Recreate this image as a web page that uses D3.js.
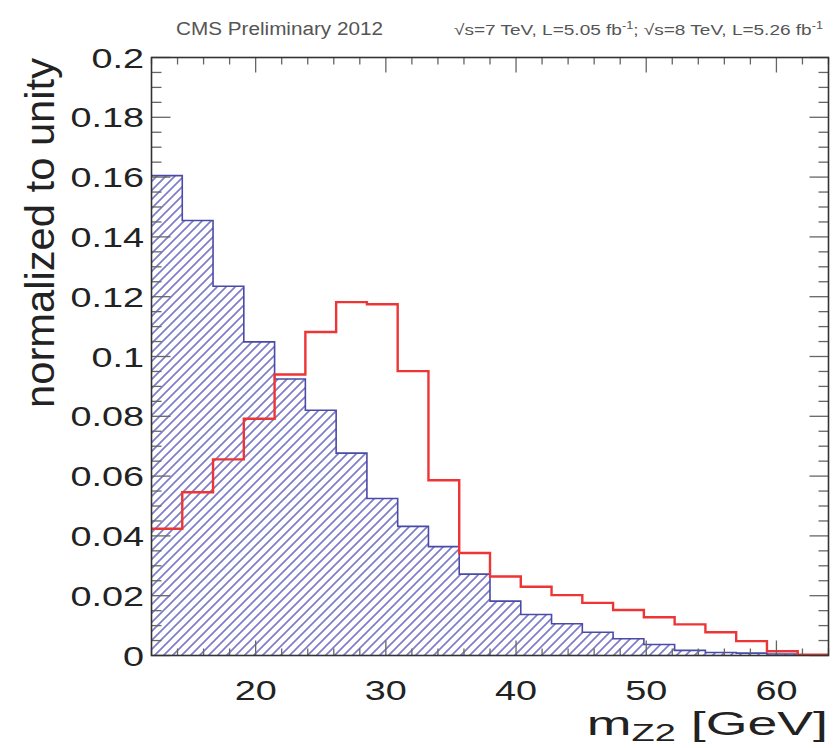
<!DOCTYPE html>
<html>
<head>
<meta charset="utf-8">
<script src="https://cdn.jsdelivr.net/npm/d3@7"></script>
<style>
  body { margin: 0; background: #fff; }
  svg { display: block; font-family: "Liberation Sans", Arial, sans-serif; }
</style>
</head>
<body>
<svg id="chart" width="835" height="748"></svg>
<script>
// Histogram binning (m_Z2, GeV)
const xMin = 12, xMax = 64, nBins = 22;

// Bin contents, normalized to unity
const blueHist = [0.1605, 0.1455, 0.1235, 0.1049, 0.0925, 0.0820, 0.0677, 0.0525, 0.0432, 0.0364, 0.0272,
                  0.0182, 0.0137, 0.0106, 0.0078, 0.0056, 0.0037, 0.0017, 0.0010, 0.0008, 0.0005, 0.0002];
const redHist  = [0.0424, 0.0546, 0.0656, 0.0792, 0.0940, 0.1082, 0.1182, 0.1175, 0.0951, 0.0586, 0.0343,
                  0.0264, 0.0230, 0.0202, 0.0176, 0.0152, 0.0128, 0.0104, 0.0078, 0.0048, 0.0014, 0.0003];

// Tick labels
const xTicks = [20, 30, 40, 50, 60];
const yTicks = [0, 0.02, 0.04, 0.06, 0.08, 0.1, 0.12, 0.14, 0.16, 0.18, 0.2];

const svg = d3.select("#chart");
const fL = 151.5, fR = 828.5, fT = 57.5, fB = 655.5;   // frame edges

const x = d3.scaleLinear().domain([xMin, xMax]).range([fL, fR]);
const y = d3.scaleLinear().domain([0, 0.2]).range([fB, fT]);

const binW = (xMax - xMin) / nBins;
const toPts = vals => {
  const pts = vals.map((v, i) => [xMin + i * binW, v]);
  pts.push([xMax, vals[vals.length - 1]]);
  return pts;
};

// hatch pattern "/"
const defs = svg.append("defs");
const pat = defs.append("pattern")
  .attr("id", "hatch")
  .attr("patternUnits", "userSpaceOnUse")
  .attr("width", 9).attr("height", 9);
pat.append("path")
  .attr("d", "M-1,10 L10,-1 M-3,3 L3,-3 M6,12 L12,6")
  .attr("stroke", "#6666c0")
  .attr("stroke-width", 1.7)
  .attr("opacity", 0.85);

defs.append("clipPath").attr("id", "frameClip")
  .append("rect")
  .attr("x", fL).attr("y", fT)
  .attr("width", fR - fL).attr("height", fB - fT);

const plot = svg.append("g").attr("clip-path", "url(#frameClip)");

// blue hatched histogram
const area = d3.area()
  .curve(d3.curveStepAfter)
  .x(d => x(d[0]))
  .y0(y(0))
  .y1(d => y(d[1]));
plot.append("path")
  .datum(toPts(blueHist))
  .attr("d", area)
  .attr("fill", "url(#hatch)");

const line = d3.line()
  .curve(d3.curveStepAfter)
  .x(d => x(d[0]))
  .y(d => y(d[1]));
plot.append("path")
  .datum(toPts(blueHist))
  .attr("d", line)
  .attr("fill", "none")
  .attr("stroke", "#4a4aa8")
  .attr("stroke-width", 1.6);

// red histogram
plot.append("path")
  .datum(toPts(redHist))
  .attr("d", line)
  .attr("fill", "none")
  .attr("stroke", "#ee3535")
  .attr("stroke-width", 2.4);

// ticks on all four sides
const tickCol = "#666";
const xMinor = d3.range(xMin, xMax + 0.01, 2);
const yMinor = d3.range(0, 0.2001, 0.005);

const ticks = svg.append("g").attr("stroke", tickCol).attr("stroke-width", 1.3);
xMinor.forEach(v => {
  const major = xTicks.includes(v);
  const len = major ? 15 : 7;
  ticks.append("line").attr("x1", x(v)).attr("x2", x(v)).attr("y1", fB).attr("y2", fB - len);
  ticks.append("line").attr("x1", x(v)).attr("x2", x(v)).attr("y1", fT).attr("y2", fT + len);
});
yMinor.forEach((v, i) => {
  const major = i % 4 === 0;
  const len = major ? 19 : 10;
  ticks.append("line").attr("x1", fL).attr("x2", fL + len).attr("y1", y(v)).attr("y2", y(v));
  ticks.append("line").attr("x1", fR).attr("x2", fR - len).attr("y1", y(v)).attr("y2", y(v));
});

// frame
svg.append("rect")
  .attr("x", fL).attr("y", fT)
  .attr("width", fR - fL).attr("height", fB - fT)
  .attr("fill", "none")
  .attr("stroke", "#333")
  .attr("stroke-width", 1.6);

// stretched tick labels
const stretch = 1.35;
const yFmt = d => d === 0 ? "0" : d3.format("~g")(d);
svg.append("g").selectAll("g")
  .data(yTicks)
  .join("g")
    .attr("transform", d => `translate(144,${y(d)}) scale(${stretch},1)`)
  .append("text")
    .attr("text-anchor", "end")
    .attr("dy", "0.36em")
    .attr("font-size", 28)
    .attr("fill", "#222")
    .text(yFmt);

svg.append("g").selectAll("g")
  .data(xTicks)
  .join("g")
    .attr("transform", d => `translate(${x(d)},690) scale(${stretch},1)`)
  .append("text")
    .attr("text-anchor", "middle")
    .attr("dy", "0.36em")
    .attr("font-size", 28)
    .attr("fill", "#222")
    .text(d => d);

// axis titles
svg.append("text")
  .attr("transform", "translate(54,58) rotate(-90)")
  .attr("text-anchor", "end")
  .attr("font-size", 41)
  .attr("fill", "#222")
  .attr("textLength", 350)
  .attr("lengthAdjust", "spacingAndGlyphs")
  .text("normalized to unity");

const xt = svg.append("g")
  .attr("transform", `translate(828,735) scale(1.58,1)`)
  .append("text")
  .attr("text-anchor", "end")
  .attr("font-size", 34)
  .attr("fill", "#222");
xt.append("tspan").text("m");
xt.append("tspan").attr("font-size", 24).attr("dy", 6).text("Z2");
xt.append("tspan").attr("dy", -6).text(" [GeV]");

// header
svg.append("text")
  .attr("x", 176).attr("y", 35)
  .attr("font-size", 18)
  .attr("fill", "#555")
  .attr("textLength", 207)
  .attr("lengthAdjust", "spacingAndGlyphs")
  .text("CMS Preliminary 2012");

const lumi = svg.append("text")
  .attr("x", 454).attr("y", 35)
  .attr("font-size", 15)
  .attr("fill", "#555")
  .attr("textLength", 369)
  .attr("lengthAdjust", "spacingAndGlyphs");
lumi.append("tspan").text("\u221As=7 TeV, L=5.05 fb");
lumi.append("tspan").attr("font-size", 10).attr("dy", -6).text("-1");
lumi.append("tspan").attr("dy", 6).text(";   \u221As=8 TeV, L=5.26 fb");
lumi.append("tspan").attr("font-size", 10).attr("dy", -6).text("-1");
</script>
</body>
</html>
